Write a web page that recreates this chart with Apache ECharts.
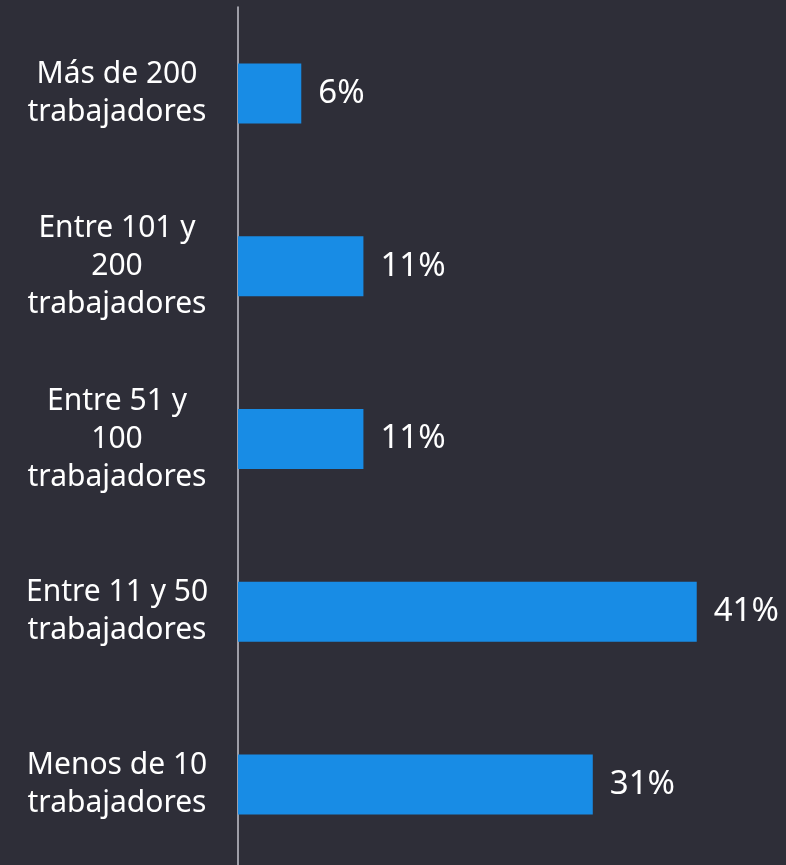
<!DOCTYPE html>
<html>
<head>
<meta charset="utf-8">
<script src="https://cdn.jsdelivr.net/npm/echarts@6/dist/echarts.min.js"></script>
<style>
html,body{margin:0;padding:0;background:#2e2e38;overflow:hidden;}
#c{width:786px;height:872px;}
</style>
</head>
<body>
<div id="c"></div>
<script>
const categories = [
  "Más de 200\ntrabajadores",
  "Entre 101 y\n200\ntrabajadores",
  "Entre 51 y\n100\ntrabajadores",
  "Entre 11 y 50\ntrabajadores",
  "Menos de 10\ntrabajadores"
];
const values = [5.6, 11.1, 11.1, 40.6, 31.4];

const chart = echarts.init(document.getElementById('c'), null, {renderer: 'canvas'});
const FONT = '"Noto Sans", sans-serif';
chart.setOption({
  backgroundColor: '#2e2e38',
  animation: false,
  grid: {left: 238, top: 7, height: 864, right: 0, containLabel: false},
  xAxis: {type: 'value', min: 0, max: 48.5, show: false},
  yAxis: {
    type: 'category',
    inverse: true,
    data: categories,
    axisLine: {show: true, lineStyle: {color: '#c4c4cc', width: 1.5}},
    axisTick: {show: false},
    splitLine: {show: false},
    axisLabel: {
      color: '#ffffff',
      fontFamily: FONT,
      fontSize: 30,
      lineHeight: 38,
      align: 'center',
      margin: 121
    }
  },
  series: [{
    type: 'bar',
    data: values,
    barWidth: 60,
    itemStyle: {color: '#188ce5'},
    label: {
      show: true,
      position: 'right',
      distance: 17,
      color: '#ffffff',
      fontFamily: FONT,
      fontSize: 33,
      formatter: p => Math.round(p.value) + '%'
    }
  }]
});
</script>
</body>
</html>
